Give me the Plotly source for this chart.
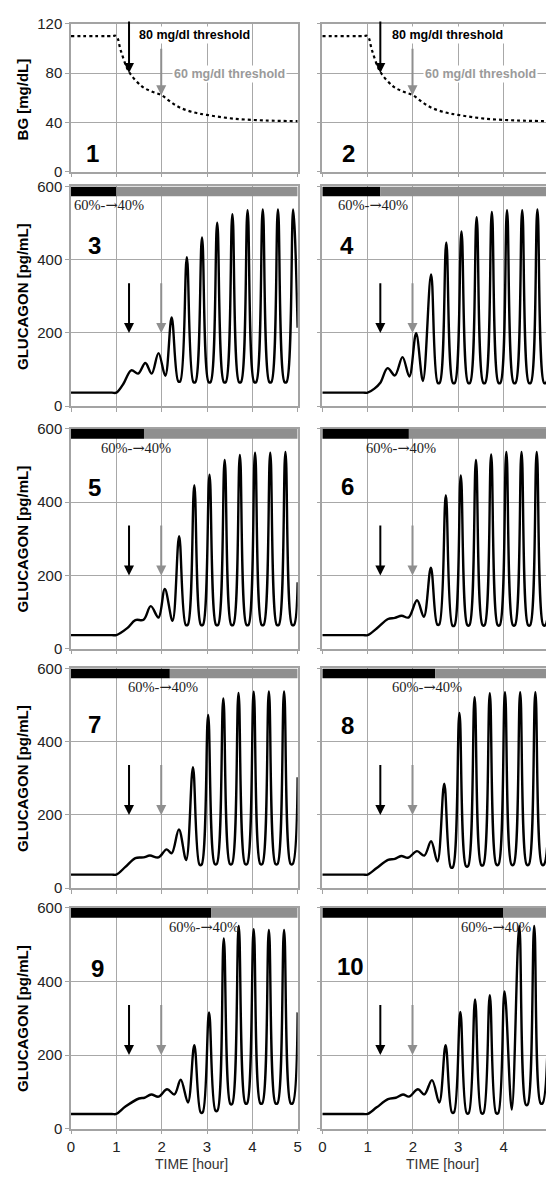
import plotly.graph_objects as go

W, H = 550, 1182

# ---------------- data ----------------
panel_labels = ["1", "2", "3", "4", "5", "6", "7", "8", "9", "10"]
x_ticks = [0, 1, 2, 3, 4, 5]
bg_ticks = [0, 40, 80, 120]
glu_ticks = [0, 200, 400, 600]

# blood glucose (panels 1 and 2)
bg_time = [0, 0.9, 1.0, 1.1, 1.28, 1.57, 1.78, 2.0, 2.22, 2.43, 2.72, 3.0, 3.59, 4.3, 5.0]
bg_value = [110, 110, 110, 98, 81, 69, 65, 62, 56, 51.5, 48, 46, 43, 41.5, 41]

# glucagon (panels 3..10)
t3 = [0, 0.9, 1.0, 1.15, 1.33, 1.48, 1.64, 1.78, 1.93, 2.08, 2.22, 2.365, 2.41, 2.555, 2.70, 2.745, 2.89,
      3.035, 3.08, 3.225, 3.37, 3.415, 3.56, 3.705, 3.75, 3.895, 4.04, 4.085, 4.23, 4.375, 4.42, 4.565,
      4.71, 4.755, 4.90, 5.0]
g3 = [37, 37, 37, 60, 98, 89, 118, 89, 145, 83, 242, 68, 68, 407, 66, 66, 461,
      66, 66, 501, 66, 66, 524, 66, 66, 535, 66, 66, 537, 66, 66, 537,
      66, 66, 537, 214]

t4 = [0, 0.9, 1.0, 1.15, 1.28, 1.44, 1.60, 1.77, 1.92, 2.07, 2.22, 2.40, 2.545, 2.59, 2.735, 2.88, 2.925,
      3.07, 3.215, 3.26, 3.405, 3.55, 3.595, 3.74, 3.885, 3.93, 4.075, 4.22, 4.265, 4.41, 4.555, 4.60,
      4.745, 4.89, 4.935, 5.08]
g4 = [37, 37, 37, 48, 64, 104, 84, 134, 81, 199, 69, 360, 64, 64, 447, 64, 64,
      477, 64, 64, 516, 64, 64, 530, 64, 64, 535, 64, 64, 535, 64, 64,
      537, 64, 64, 537]

t5 = [0, 0.9, 1.0, 1.24, 1.42, 1.60, 1.76, 1.93, 2.07, 2.24, 2.385, 2.53, 2.575, 2.72, 2.865, 2.91,
      3.055, 3.20, 3.245, 3.39, 3.535, 3.58, 3.725, 3.87, 3.915, 4.06, 4.205, 4.25, 4.395, 4.54, 4.585,
      4.73, 4.875, 4.92, 5.0]
g5 = [37, 37, 37, 56, 78, 79, 116, 85, 163, 76, 307, 65, 65, 446, 65, 65,
      475, 65, 65, 515, 65, 65, 529, 65, 65, 535, 65, 65, 535, 65, 65,
      537, 65, 65, 181]

t6 = [0, 0.9, 1.0, 1.2, 1.45, 1.60, 1.75, 1.90, 2.09, 2.24, 2.395, 2.535, 2.58, 2.725, 2.87, 2.915,
      3.055, 3.20, 3.245, 3.39, 3.535, 3.58, 3.725, 3.87, 3.915, 4.06, 4.205, 4.25, 4.395, 4.54, 4.585,
      4.73, 4.875, 4.92, 5.065]
g6 = [37, 37, 37, 55, 81, 84, 90, 85, 132, 87, 221, 66, 66, 419, 63, 63,
      473, 64, 64, 515, 64, 64, 530, 64, 64, 537, 64, 64, 537, 64, 64,
      537, 64, 64, 537]

t7 = [0, 0.9, 1.0, 1.2, 1.42, 1.60, 1.74, 1.93, 2.11, 2.22, 2.38, 2.54, 2.69, 2.835, 2.88, 3.025,
      3.17, 3.215, 3.36, 3.505, 3.55, 3.695, 3.84, 3.885, 4.03, 4.175, 4.22, 4.365, 4.51, 4.555, 4.70,
      4.845, 4.89, 5.0]
g7 = [37, 37, 37, 58, 82, 84, 89, 84, 106, 95, 160, 77, 330, 64, 64, 473,
      66, 66, 518, 66, 66, 533, 66, 66, 536, 66, 66, 537, 66, 66, 537,
      66, 66, 303]

t8 = [0, 0.9, 1.0, 1.2, 1.45, 1.60, 1.74, 1.89, 2.09, 2.25, 2.40, 2.54, 2.69, 2.835, 2.88, 3.025,
      3.17, 3.215, 3.36, 3.505, 3.55, 3.695, 3.84, 3.885, 4.03, 4.175, 4.22, 4.365, 4.51, 4.555, 4.70,
      4.845, 4.89, 5.035]
g8 = [37, 37, 37, 55, 77, 80, 88, 83, 101, 89, 128, 73, 285, 57, 57, 478,
      60, 60, 521, 63, 63, 532, 64, 64, 535, 64, 64, 535, 64, 64, 535,
      64, 64, 535]

t9 = [0, 0.9, 1.0, 1.2, 1.5, 1.62, 1.77, 1.93, 2.12, 2.28, 2.42, 2.58, 2.72, 2.86, 2.905, 3.045,
      3.185, 3.23, 3.37, 3.515, 3.555, 3.70, 3.845, 3.885, 4.03, 4.175, 4.22, 4.365, 4.51, 4.555, 4.70,
      4.845, 4.89, 5.0]
g9 = [40, 40, 40, 60, 82, 84, 93, 87, 107, 93, 133, 71, 227, 44, 44, 316,
      49, 49, 517, 67, 67, 551, 69, 69, 542, 69, 69, 540, 69, 69, 540,
      69, 69, 316]

t10 = [0, 0.9, 1.0, 1.2, 1.45, 1.62, 1.78, 1.91, 2.11, 2.25, 2.42, 2.58, 2.72, 2.86, 2.905, 3.045,
       3.185, 3.23, 3.37, 3.51, 3.555, 3.695, 3.835, 3.88, 4.02, 4.18, 4.345, 4.49, 4.53, 4.675,
       4.815, 4.86, 5.0]
g10 = [40, 40, 40, 58, 80, 84, 93, 87, 107, 93, 132, 71, 227, 44, 44, 317,
       42, 42, 351, 42, 42, 363, 42, 42, 373, 52, 551, 65, 65, 551,
       69, 69, 540]

# time at which the 60% -> 40% switch happens (panels 3..10)
switch_time = [1.0, 1.28, 1.61, 1.91, 2.18, 2.49, 3.09, 3.99]

threshold80_time = 1.28
threshold60_time = 1.99
bg80 = 80
bg60 = 62

glu_series = [(t3, g3), (t4, g4), (t5, g5), (t6, g6), (t7, g7), (t8, g8), (t9, g9), (t10, g10)]

# ---------------- layout helpers ----------------
SANS = "Liberation Sans, Arial, sans-serif"
SERIF = "Liberation Serif, Times New Roman, serif"
AX = "#a3a3a3"
GRID = "#a8a8a8"
GRAYMARK = "#8f8f8f"
switch_label = "60%-<span style=\"font-family:'DejaVu Serif'\">\u2192</span>40%"

row_px = [(15, 165), (180, 403), (426, 649), (669, 892), (912, 1136)]
col_px = [(68, 298), (323, 550)]
px_per_hour = 46.0
col_range = [5.0, (550 - 323) / px_per_hour]

num_x = [0.48, 0.57, 0.51, 0.55, 0.51, 0.55, 0.51, 0.55, 0.59, 0.62]
num_y = [15, 15, 438, 438, 441, 443, 447, 445, 436, 440]
label_x = [0.83, 1.11, 1.43, 1.74, 2.02, 2.31, 2.93, 3.83]
t80_x = [1.46, 1.49]
t60_x = [2.22, 2.22]

fig = go.Figure()
layout = dict(width=W, height=H, margin=dict(l=0, r=0, t=0, b=0),
              paper_bgcolor="white", plot_bgcolor="white", showlegend=False)
annotations = []
shapes = []

for k in range(10):
    row, col = divmod(k, 2)
    idx = k + 1
    xa = "xaxis" if idx == 1 else f"xaxis{idx}"
    ya = "yaxis" if idx == 1 else f"yaxis{idx}"
    xr = "x" if idx == 1 else f"x{idx}"
    yr = "y" if idx == 1 else f"y{idx}"
    T, B = row_px[row]
    L, R = col_px[col]
    xmax = col_range[col]
    layout[xa] = dict(domain=[L / W, R / W], range=[0, xmax], anchor=yr,
                      tickvals=x_ticks, showticklabels=(row == 4),
                      showgrid=True, gridcolor=GRID, gridwidth=1,
                      showline=True, linecolor=AX, linewidth=1.5, mirror=True,
                      ticks="outside", ticklen=4, tickcolor=AX,
                      zeroline=False, fixedrange=True,
                      tickfont=dict(family=SANS, size=15, color="#222222"))
    is_bg = row == 0
    layout[ya] = dict(domain=[1 - B / H, 1 - T / H], range=[0, 120] if is_bg else [0, 600],
                      anchor=xr, tickvals=bg_ticks if is_bg else glu_ticks,
                      showticklabels=(col == 0),
                      showgrid=True, gridcolor=GRID, gridwidth=1,
                      showline=True, linecolor=AX, linewidth=1.5, mirror=(col == 0),
                      ticks="outside", ticklen=4, tickcolor=AX,
                      zeroline=False, fixedrange=True,
                      tickfont=dict(family=SANS, size=15, color="#222222"))

    if is_bg:
        fig.add_trace(go.Scatter(x=bg_time, y=bg_value, mode="lines", xaxis=xr, yaxis=yr,
                                 line=dict(color="black", width=2.2, dash="dot", shape="spline"),
                                 hoverinfo="skip"))
        annotations.append(dict(x=threshold80_time, y=bg80, ax=threshold80_time, ay=123,
                                xref=xr, yref=yr, axref=xr, ayref=yr, text="", showarrow=True,
                                arrowhead=2, arrowsize=1, arrowwidth=2, arrowcolor="black"))
        annotations.append(dict(x=threshold60_time, y=bg60, ax=threshold60_time, ay=101,
                                xref=xr, yref=yr, axref=xr, ayref=yr, text="", showarrow=True,
                                arrowhead=2, arrowsize=1, arrowwidth=2, arrowcolor=GRAYMARK))
        annotations.append(dict(x=t80_x[col], y=111, xref=xr, yref=yr, xanchor="left", yanchor="middle",
                                text="<b>80 mg/dl threshold</b>", showarrow=False, bgcolor="white",
                                borderpad=1, font=dict(family=SANS, size=12.5, color="black")))
        annotations.append(dict(x=t60_x[col], y=79, xref=xr, yref=yr, xanchor="left", yanchor="middle",
                                text="<b>60 mg/dl threshold</b>", showarrow=False, bgcolor="white",
                                borderpad=1, font=dict(family=SANS, size=12.5, color="#9a9a9a")))
    else:
        j = k - 2
        tt, gg = glu_series[j]
        fig.add_trace(go.Scatter(x=tt, y=gg, mode="lines", xaxis=xr, yaxis=yr,
                                 line=dict(color="black", width=2.4, shape="spline", smoothing=1),
                                 hoverinfo="skip"))
        shapes.append(dict(type="rect", xref=xr, yref=yr, x0=0, x1=switch_time[j], y0=573, y1=600,
                           fillcolor="black", line=dict(width=0), layer="above"))
        shapes.append(dict(type="rect", xref=xr, yref=yr, x0=switch_time[j], x1=xmax, y0=573, y1=600,
                           fillcolor=GRAYMARK, line=dict(width=0), layer="above"))
        annotations.append(dict(x=label_x[j], y=548, xref=xr, yref=yr, xanchor="center", yanchor="middle",
                                text=switch_label, showarrow=False,
                                font=dict(family=SERIF, size=14.5, color="#222222")))
        annotations.append(dict(x=threshold80_time, y=200, ax=threshold80_time, ay=340,
                                xref=xr, yref=yr, axref=xr, ayref=yr, text="", showarrow=True,
                                arrowhead=2, arrowsize=1, arrowwidth=2, arrowcolor="black"))
        annotations.append(dict(x=threshold60_time, y=200, ax=threshold60_time, ay=340,
                                xref=xr, yref=yr, axref=xr, ayref=yr, text="", showarrow=True,
                                arrowhead=2, arrowsize=1, arrowwidth=2, arrowcolor=GRAYMARK))

    annotations.append(dict(x=num_x[k], y=num_y[k], xref=xr, yref=yr, xanchor="center", yanchor="middle",
                            text=f"<b>{panel_labels[k]}</b>", showarrow=False,
                            font=dict(family=SANS, size=24, color="black")))

# axis titles
for r, (T, B) in enumerate(row_px):
    annotations.append(dict(x=19 / W, y=1 - ((T + B) / 2 + (2 if r == 0 else 0)) / H, xref="paper", yref="paper",
                            xanchor="center", yanchor="middle", textangle=-90, showarrow=False,
                            text="<b>BG [mg/dL]</b>" if r == 0 else "<b>GLUCAGON [pg/mL]</b>",
                            font=dict(family=SANS, size=15, color="black")))
for cx in (190, 445):
    annotations.append(dict(x=cx / W, y=1 - 1172 / H, xref="paper", yref="paper",
                            xanchor="center", yanchor="middle", showarrow=False,
                            text="TIME [hour]", font=dict(family=SANS, size=14, color="#333333")))

layout["annotations"] = annotations
layout["shapes"] = shapes
fig.update_layout(**layout)
fig.write_html("out.html")
